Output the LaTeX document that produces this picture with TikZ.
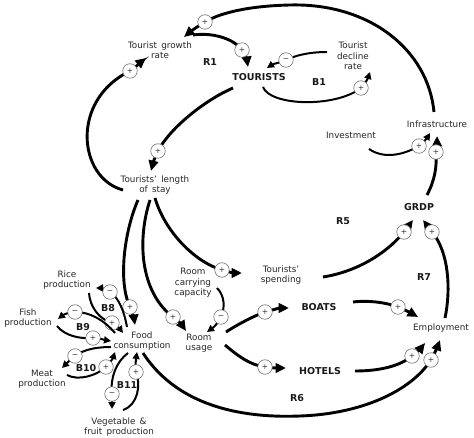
\documentclass[tikz,border=0pt]{standalone}
\usepackage{fontspec}
\setmainfont{DejaVu Sans}
\usetikzlibrary{arrows.meta}
\newcommand\lblfont{\fontsize{8.8}{10.3}\selectfont\spaceskip=0.48em\relax}
\newcommand\bldfont{\fontsize{9.5}{11}\selectfont\bfseries}
\newcommand\sgnfont{\fontsize{7.5}{7.5}\selectfont}
\tikzset{
  lbl/.style={font=\lblfont, align=center, inner sep=0pt, text=black!85},
  bld/.style={font=\bldfont, inner sep=0pt, text=black!90},
  sgn/.style={circle, draw=black!55, line width=0.6pt, fill=white, minimum size=14.5pt, inner sep=0pt, font=\sgnfont, text=black!80},
  thk/.style={line width=2.9pt, -{Triangle[length=10.5pt,width=9.5pt]}},
  mdl/.style={line width=2pt, -{Triangle[length=7pt,width=7pt]}},
}
\begin{document}
\begin{tikzpicture}[x=1pt,y=-1pt]
\useasboundingbox (0,0) rectangle (474,438);
% variable nodes
\node[lbl] (tgr) at (160,50) {Tourist growth\\rate};
\node[bld] (tou) at (259,77) {TOURISTS};
\node[lbl] (tdr) at (353,56) {Tourist\\decline\\rate};
\node[lbl] (inv) at (351,135) {Investment};
\node[lbl] (inf) at (437,124) {Infrastructure};
\node[bld] (grdp) at (419,207) {GRDP};
\node[lbl] (tls) at (155,185) {Tourists' length\\of stay};
\node[lbl] (tsp) at (281,275) {Tourists'\\spending};
\node[lbl] (rcc) at (193,283) {Room\\carrying\\capacity};
\node[lbl] (ru) at (199,343) {Room\\usage};
\node[bld] (boats) at (319,307) {BOATS};
\node[bld] (hotels) at (320,371) {HOTELS};
\node[lbl] (emp) at (441,328) {Employment};
\node[lbl] (food) at (142,341) {Food\\consumption};
\node[lbl] (rice) at (67,280) {Rice\\production};
\node[lbl] (fish) at (28,318) {Fish\\production};
\node[lbl] (meat) at (42,379) {Meat\\production};
\node[lbl] (veg) at (119,427) {Vegetable \&\\fruit production};
% loop labels
\node[bld] (r1) at (210,62) {R1};
\node[bld] (b1) at (319,82) {B1};
\node[bld] (r5) at (343,221) {R5};
\node[bld] (r7) at (424,277) {R7};
\node[bld] (r6) at (297,398) {R6};
\node[bld] (b8) at (108,308) {B8};
\node[bld] (b9) at (83,327) {B9};
\node[bld] (b10) at (86,368) {B10};
\node[bld] (b11) at (127,385) {B11};
% connectors
\draw[thk] ([shift={(-3,-12)}]inf.center) .. controls (428,50) and (370,3) .. (290,5)
  .. controls (245,6) and (218,14) .. (205,22) node[sgn](s1){+}
  .. controls (198,26) and (190,32) .. ([shift={(24,-13)}]tgr.center);
\draw[thk] ([shift={(33,-15)}]tgr.center) .. controls (215,32) and (235,40) .. (242,50) node[sgn](s2){+}
  .. controls (245,55) and (247,60) .. ([shift={(-11,-10)}]tou.center);
\draw[mdl] ([shift={(-26,-4)}]tdr.center) .. controls (308,52) and (294,56) .. (286,60) node[sgn](s3){−}
  .. controls (279,63) and (273,64) .. ([shift={(8,-9)}]tou.center);
\draw[mdl] ([shift={(4,10)}]tou.center) .. controls (270,106) and (335,108) .. (361,88) node[sgn](s4){+}
  .. controls (365,84) and (368,78) .. ([shift={(17,16)}]tdr.center);
\draw[thk] ([shift={(-26,11)}]tou.center) .. controls (205,100) and (170,128) .. (158,151) node[sgn](s5){+}
  .. controls (155,157) and (153,163) .. ([shift={(-4,-14)}]tls.center);
\draw[thk] ([shift={(-32,5)}]tls.center) .. controls (78,178) and (70,100) .. (130,71) node[sgn](s6){+}
  .. controls (136,67) and (141,62) .. ([shift={(-14,8)}]tgr.center);
\draw[thk] ([shift={(-17,15)}]tls.center) .. controls (124,232) and (118,282) .. (130,307) node[sgn](s7){+}
  .. controls (132,313) and (134,318) .. ([shift={(-7,-16)}]food.center);
\draw[thk] ([shift={(-5,15)}]tls.center) .. controls (137,240) and (140,292) .. (173,317) node[sgn](s8){+}
  .. controls (178,321) and (182,325) .. ([shift={(-13,-12)}]ru.center);
\draw[thk] ([shift={(0,13)}]tls.center) .. controls (165,232) and (195,262) .. (222,270) node[sgn](s9){+}
  .. controls (228,272) and (235,273) .. ([shift={(-39,-2)}]tsp.center);
\draw[mdl] ([shift={(24,5)}]rcc.center) .. controls (225,296) and (225,308) .. (221,317) node[sgn](s10){−}
  .. controls (219,322) and (214,327) .. ([shift={(8,-11)}]ru.center);
\draw[thk] ([shift={(27,-11)}]ru.center) .. controls (240,323) and (254,316) .. (265,312) node[sgn](s11){+}
  .. controls (272,310) and (280,308) .. ([shift={(-30,1)}]boats.center);
\draw[thk] ([shift={(26,2)}]ru.center) .. controls (238,356) and (250,365) .. (265,367) node[sgn](s12){+}
  .. controls (272,368) and (278,368) .. ([shift={(-34,-3)}]hotels.center);
\draw[thk] ([shift={(34,-5)}]boats.center) .. controls (370,300) and (388,303) .. (398,307) node[sgn](s13){+}
  .. controls (405,310) and (411,313) .. ([shift={(-23,-11)}]emp.center);
\draw[thk] ([shift={(35,0)}]hotels.center) .. controls (380,371) and (400,366) .. (412,356) node[sgn](s14){+}
  .. controls (417,352) and (421,348) .. ([shift={(-16,15)}]emp.center);
\draw[thk] ([shift={(1,12)}]food.center) .. controls (180,410) and (250,418) .. (300,416)
  .. controls (360,414) and (410,392) .. (431,360) node[sgn](s15){+}
  .. controls (434,354) and (437,348) .. ([shift={(-1,12)}]emp.center);
\draw[thk] ([shift={(4,-10)}]emp.center) .. controls (451,290) and (449,252) .. (432,232) node[sgn](s16){+}
  .. controls (429,228) and (426,224) .. ([shift={(4,13)}]grdp.center);
\draw[thk] ([shift={(42,2)}]tsp.center) .. controls (355,272) and (385,255) .. (404,232) node[sgn](s17){+}
  .. controls (407,228) and (410,224) .. ([shift={(-6,13)}]grdp.center);
\draw[thk] ([shift={(8,-12)}]grdp.center) .. controls (435,180) and (437,166) .. (436,152) node[sgn](s18){+}
  .. controls (436,147) and (437,142) .. ([shift={(0,12)}]inf.center);
\draw[mdl] ([shift={(18,14)}]inv.center) .. controls (385,160) and (405,154) .. (419,146) node[sgn](s19){+}
  .. controls (423,143) and (427,138) .. ([shift={(-7,9)}]inf.center);
% food loops
\draw[mdl] ([shift={(-15,-14)}]food.center) .. controls (124,311) and (119,298) .. (110,292) node[sgn](s20){−}
  .. controls (105,289) and (101,288) .. ([shift={(29,8)}]rice.center);
\draw[mdl] ([shift={(22,13)}]rice.center) .. controls (90,307) and (99,319) .. (112,323) node[sgn](s21){+}
  .. controls (116,325) and (120,329) .. ([shift={(-19,-8)}]food.center);
\draw[mdl] ([shift={(-27,-8)}]food.center) .. controls (104,320) and (90,312) .. (75,312) node[sgn](s22){−}
  .. controls (69,312) and (63,315) .. ([shift={(30,1)}]fish.center);
\draw[mdl] ([shift={(29,8)}]fish.center) .. controls (65,336) and (80,339) .. (93,338) node[sgn](s23){+}
  .. controls (99,338) and (105,340) .. ([shift={(-31,0)}]food.center);
\draw[mdl] ([shift={(-31,6)}]food.center) .. controls (95,347) and (83,350) .. (75,356) node[sgn](s24){−}
  .. controls (70,360) and (66,364) .. ([shift={(20,-11)}]meat.center);
\draw[mdl] ([shift={(25,-4)}]meat.center) .. controls (78,381) and (96,376) .. (106,367) node[sgn](s25){+}
  .. controls (110,363) and (113,358) .. ([shift={(-27,11)}]food.center);
\draw[mdl] ([shift={(-14,12)}]food.center) .. controls (116,362) and (110,378) .. (112,394) node[sgn](s26){−}
  .. controls (112,399) and (112,404) .. ([shift={(-7,-18)}]veg.center);
\draw[mdl] ([shift={(4,-17)}]veg.center) .. controls (138,405) and (141,385) .. (136,372) node[sgn](s27){+}
  .. controls (135,366) and (136,359) .. ([shift={(-5,11)}]food.center);
\end{tikzpicture}
\end{document}
